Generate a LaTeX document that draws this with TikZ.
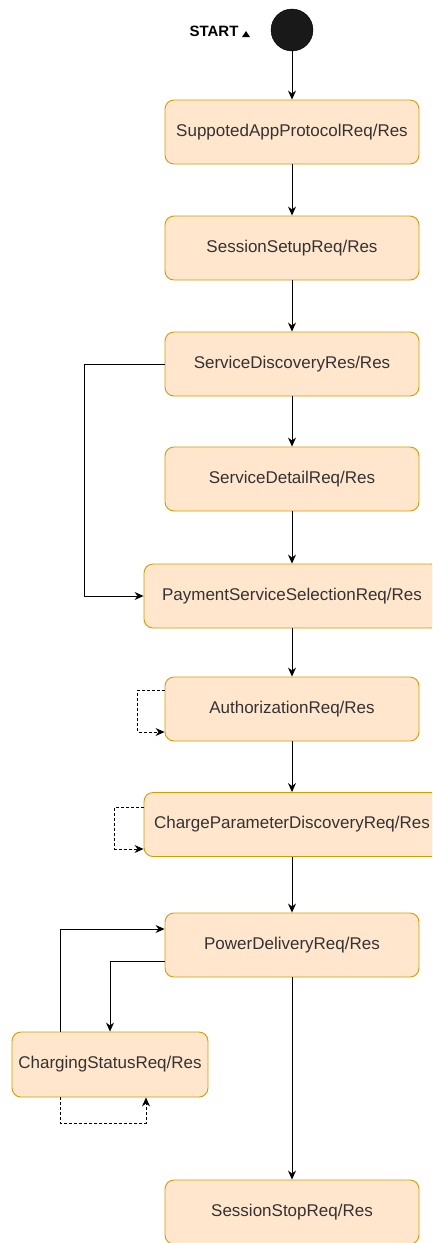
\documentclass[tikz,border=0pt]{standalone}
\usepackage{fontspec}
\setmainfont{Liberation Sans}
\usetikzlibrary{arrows.meta}
\definecolor{boxfill}{HTML}{FFE6CC}
\definecolor{boxdraw}{HTML}{D79B00}
\definecolor{txt}{HTML}{333333}
\begin{document}
\begin{tikzpicture}[x=1pt,y=-1pt,
  box/.style={draw=boxdraw, fill=boxfill, rounded corners=9pt, minimum width=254pt, minimum height=64pt, inner sep=0pt, text=txt, font=\fontsize{17}{20}\selectfont, line width=0.9pt},
  wide/.style={box, minimum width=296pt},
  flow/.style={draw=black, line width=0.9pt, -{Stealth[length=9pt,width=8pt,inset=3pt]}},
  loopline/.style={flow, dash pattern=on 3pt off 2pt}]
\useasboundingbox (0,0) rectangle (432,1243);
\clip (0,0) rectangle (432,1243);
\node[circle, fill=black!90, draw=black, minimum size=42pt, inner sep=0pt] (start) at (292,30) {};
\node[font=\bfseries\fontsize{15}{18}\selectfont, text=black, inner sep=0pt] (startlbl) at (214,31) {START};
\fill (242,37) -- (250,37) -- (246,31) -- cycle;
\node[box] (b1) at (292,132) {SuppotedAppProtocolReq/Res};
\node[box] (b2) at (292,248) {SessionSetupReq/Res};
\node[box] (b3) at (292,364) {ServiceDiscoveryRes/Res};
\node[box] (b4) at (292,479) {ServiceDetailReq/Res};
\node[wide] (b5) at (292,596) {PaymentServiceSelectionReq/Res};
\node[box] (b6) at (292,709) {AuthorizationReq/Res};
\node[wide] (b7) at (292,824.5) {ChargeParameterDiscoveryReq/Res};
\node[box] (b8) at (292,945) {PowerDeliveryReq/Res};
\node[box, minimum width=196pt, minimum height=65pt] (cs) at (110,1064.5) {ChargingStatusReq/Res};
\node[box] (b9) at (292,1212) {SessionStopReq/Res};
\draw[flow] (start) -- (b1);
\draw[flow] (b1) -- (b2);
\draw[flow] (b2) -- (b3);
\draw[flow] (b3) -- (b4);
\draw[flow] (b4) -- (b5);
\draw[flow] (b5) -- (b6);
\draw[flow] (b6) -- (b7);
\draw[flow] (b7) -- (b8);
\draw[flow] (b8) -- (b9);
\draw[flow] (b3.west) -- ++(-80,0) |- (b5.west);
\draw[loopline] ([yshift=19pt]b6.west) -- ++(-27,0) |- ([yshift=-23pt]b6.west);
\draw[loopline] ([yshift=17.5pt]b7.west) -- ++(-29,0) |- ([yshift=-24.5pt]b7.west);
\draw[flow] ([xshift=-50pt]cs.north) |- ([yshift=16pt]b8.west);
\draw[flow] ([yshift=-16pt]b8.west) -| (cs.north);
\draw[loopline] ([xshift=-50pt]cs.south) -- ++(0,26) -| ([xshift=36pt]cs.south);
\end{tikzpicture}
\end{document}
